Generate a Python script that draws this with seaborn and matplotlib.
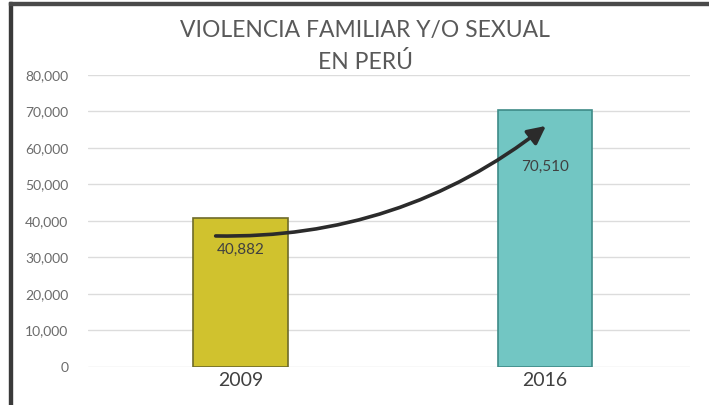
import seaborn as sns
import matplotlib.pyplot as plt
import pandas as pd
from matplotlib.patches import Rectangle

years = ['2009', '2016']
cases = [40882, 70510]
bar_colors = ['#D0C22E', '#72C6C3']
edge_colors = ['#6E6B2A', '#3E8B88']
yticks = [0, 10000, 20000, 30000, 40000, 50000, 60000, 70000, 80000]

df = pd.DataFrame({'Año': years, 'Casos': cases})

sns.set_theme(style="white")
plt.rcParams['font.family'] = ['Lato', 'DejaVu Sans']

fig = plt.figure(figsize=(7.09, 4.05), dpi=100)
ax = fig.add_axes([0.124, 0.094, 0.849, 0.721])

sns.barplot(data=df, x='Año', y='Casos', hue='Año', palette=bar_colors,
            saturation=1, width=0.31, legend=False, ax=ax, zorder=3)
for patch, ec in zip(ax.patches, edge_colors):
    patch.set_edgecolor(ec)
    patch.set_linewidth(1.2)

ax.set_ylim(0, 80000)
ax.set_xlim(-0.5, 1.475)
ax.set_yticks(yticks)
ax.set_yticklabels([f'{v:,}' for v in yticks], color='#6B6B6B', fontsize=10)
ax.tick_params(axis='y', length=0, pad=14)
ax.tick_params(axis='x', length=0, pad=4, labelsize=14, labelcolor='#404040')
ax.grid(axis='y', color='#DCDCDC', linewidth=1, zorder=0)
for s in ax.spines.values():
    s.set_visible(False)
ax.set_xlabel('')
ax.set_ylabel('')

# value labels inside bars
ax.text(0, 32000, f'{cases[0]:,}', ha='center', va='center', fontsize=11, color='#404040', zorder=5)
ax.text(1, 54800, f'{cases[1]:,}', ha='center', va='center', fontsize=11, color='#404040', zorder=5)

# growth arrow
ax.annotate('', xy=(1.01, 66500), xytext=(-0.09, 35900),
            arrowprops=dict(arrowstyle='-|>,head_length=0.9,head_width=0.45',
                            connectionstyle='arc3,rad=0.18', color='#2B2B2B', lw=2.6),
            zorder=6)

fig.text(0.515, 0.925, 'VIOLENCIA FAMILIAR Y/O SEXUAL', ha='center', va='center',
         fontsize=16.5, color='#595959')
fig.text(0.515, 0.847, 'EN PERÚ', ha='center', va='center', fontsize=16.5, color='#595959')

# outer frame (left and top dark border)
fig.patches.append(Rectangle((0.012, 0), 0.005, 0.995, transform=fig.transFigure,
                             color='#3A3A3A', zorder=10))
fig.patches.append(Rectangle((0.012, 0.988), 0.988, 0.008, transform=fig.transFigure,
                             color='#4A4A4A', zorder=10))

plt.savefig('out.png', dpi=100)
plt.close()
